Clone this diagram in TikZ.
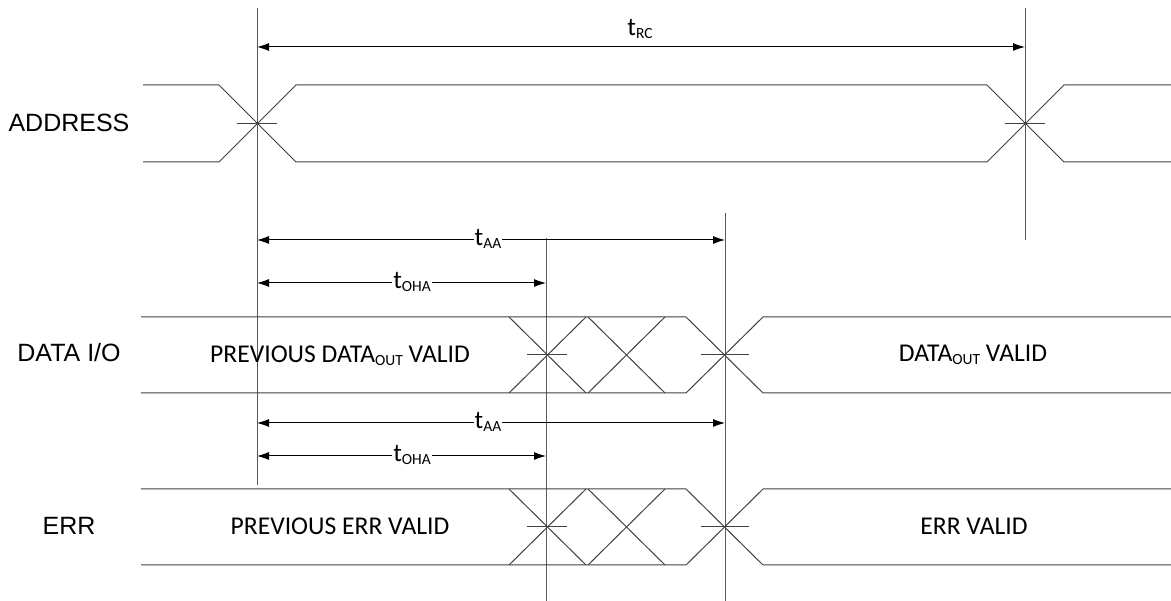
\documentclass[tikz,border=0pt]{standalone}
\usepackage{fontspec}
\setmainfont{Carlito}
\newfontfamily\arialfont{Liberation Sans}
\usetikzlibrary{arrows.meta}
% subscript in the timing labels
\newcommand{\lowtxt}[1]{\raisebox{-3pt}{\fontsize{15.5pt}{15.5pt}\selectfont #1}}

\begin{document}
\begin{tikzpicture}[x=1pt,y=-1pt,line width=1pt,
    wave/.style={draw=black!75},
    refline/.style={draw=black!65},
    dim/.style={black,{Latex[length=12pt,width=8pt]}-{Latex[length=12pt,width=8pt]}},
    rowlabel/.style={font=\arialfont\fontsize{25pt}{25pt}\selectfont,anchor=base},
    state/.style={font=\fontsize{25.6pt}{25.6pt}\selectfont,anchor=base},
    tlabel/.style={font=\fontsize{25.6pt}{25.6pt}\selectfont,anchor=base,fill=white,inner sep=1pt}]
  \useasboundingbox (0,0) rectangle (1171,601);
  \coordinate (a1) at (257,47);
  \coordinate (a2) at (1025,47);
  \coordinate (b1) at (257,240);
  \coordinate (b2) at (725,240);
  \coordinate (c1) at (257,283);
  \coordinate (c2) at (546,283);
  \coordinate (d1) at (257,423);
  \coordinate (d2) at (725,423);
  \coordinate (e1) at (257,456);
  \coordinate (e2) at (546,456);

  % reference lines
  \draw[refline] (257,8) -- (257,485);
  \draw[refline] (1025,8) -- (1025,240);
  \draw[refline] (546,238) -- (546,601);
  \draw[refline] (725,213) -- (725,601);

  % address bus
  \draw[wave] (143,85) -- (219,85) -- (296,162) -- (987,162) -- (1064,85) -- (1171,85);
  \draw[wave] (143,162) -- (219,162) -- (296,85) -- (987,85) -- (1064,162) -- (1171,162);
  \draw[wave] (237,124) -- (277,124);
  \draw[wave] (1005,124) -- (1045,124);

  % data and err buses
  \foreach \yc in {355,527}{
    % old value, then two unknown crossings
    \draw[wave] (141,\yc-38) -- (686,\yc-38) -- (763,\yc+38) -- (1171,\yc+38);
    \draw[wave] (141,\yc+38) -- (686,\yc+38) -- (763,\yc-38) -- (1171,\yc-38);
    \draw[wave] (509,\yc-38) -- (586,\yc+38);
    \draw[wave] (509,\yc+38) -- (586,\yc-38);
    \draw[wave] (588,\yc-38) -- (665,\yc+38);
    \draw[wave] (588,\yc+38) -- (665,\yc-38);
    \draw[wave] (527,\yc) -- (567,\yc);
    \draw[wave] (701,\yc) -- (749,\yc);
  }

  % timing arrows
  \draw[dim] (a1) -- (a2);
  \node[state] (trc) at (640,36) {t\lowtxt{RC}};
  \draw[dim] (b1) -- (b2);
  \node[tlabel] (taa1) at (488,246) {t\lowtxt{AA}};
  \draw[dim] (c1) -- (c2);
  \node[tlabel] (toha1) at (412,289) {t\lowtxt{OHA}};
  \draw[dim] (d1) -- (d2);
  \node[tlabel] (taa2) at (488,429) {t\lowtxt{AA}};
  \draw[dim] (e1) -- (e2);
  \node[tlabel] (toha2) at (412,462) {t\lowtxt{OHA}};

  % signal names
  \node[rowlabel] (addr) at (69,132) {ADDRESS};
  \node[rowlabel] (dataio) at (69,362) {DATA I/O};
  \node[rowlabel] (err) at (69,535) {ERR};

  % bus contents
  \node[state] (prevdata) at (340,363) {PREVIOUS DATA\lowtxt{OUT} VALID};
  \node[state] (newdata) at (973,362) {DATA\lowtxt{OUT} VALID};
  \node[state] (preverr) at (340,535) {PREVIOUS ERR VALID};
  \node[state] (newerr) at (974,535) {ERR VALID};
\end{tikzpicture}
\end{document}
